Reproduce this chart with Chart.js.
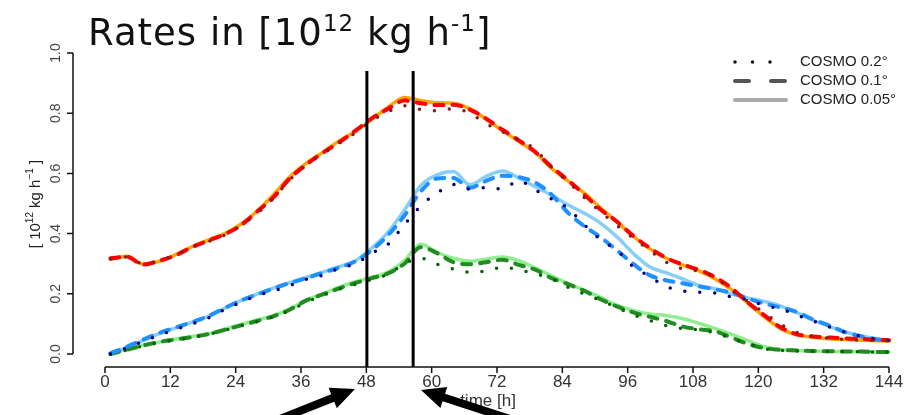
<!DOCTYPE html>
<html>
<head>
<meta charset="utf-8">
<script src="https://cdn.jsdelivr.net/npm/chart.js@4/dist/chart.umd.min.js"></script>
<style>
  html, body { margin: 0; padding: 0; background: #fff; }
  #wrap { position: relative; width: 917px; height: 415px; }
  #title {
    position: absolute; left: 88px; top: 14px;
    font-family: "DejaVu Sans", sans-serif; font-size: 37px; line-height: 1;
    letter-spacing: 1px; color: #111; white-space: nowrap;
  }
  #title .sup { position: relative; top: -14px; font-size: 23px; }
</style>
</head>
<body>
<div id="wrap">
  <canvas id="rateChart" width="917" height="415"></canvas>
  <div id="title">Rates in [10<span class="sup">12</span> kg h<span class="sup">-1</span>]</div>
</div>
<script>
const hours = [1, 4, 7, 10, 13, 16, 19, 22, 25, 28, 31, 34, 37, 40, 43, 46, 49, 52, 55, 58,
  61, 64, 67, 70, 73, 76, 79, 82, 85, 88, 91, 94, 97, 100, 103, 106, 109, 112, 115, 118,
  121, 124, 127, 130, 133, 136, 139, 142, 144];

// red group
const red005 = [0.315, 0.325, 0.299, 0.308, 0.33, 0.357, 0.379, 0.4, 0.432, 0.476,
  0.53, 0.59, 0.634, 0.67, 0.708, 0.74, 0.78, 0.82, 0.852, 0.842,
  0.835, 0.833, 0.815, 0.78, 0.742, 0.706, 0.67, 0.617, 0.575, 0.535,
  0.486, 0.44, 0.392, 0.35, 0.319, 0.296, 0.277, 0.25, 0.215, 0.17,
  0.125, 0.085, 0.064, 0.056, 0.051, 0.048, 0.046, 0.044, 0.043];
const red01 = [0.318, 0.323, 0.297, 0.31, 0.328, 0.355, 0.377, 0.398, 0.428, 0.474,
  0.522, 0.584, 0.63, 0.668, 0.703, 0.742, 0.783, 0.815, 0.842, 0.833,
  0.827, 0.828, 0.812, 0.782, 0.745, 0.71, 0.672, 0.622, 0.578, 0.53,
  0.48, 0.44, 0.393, 0.353, 0.32, 0.298, 0.28, 0.256, 0.22, 0.173,
  0.13, 0.09, 0.066, 0.058, 0.055, 0.052, 0.05, 0.047, 0.046];
const red02 = [0.316, 0.322, 0.3, 0.31, 0.33, 0.355, 0.374, 0.395, 0.427, 0.468,
  0.518, 0.58, 0.628, 0.665, 0.7, 0.735, 0.775, 0.805, 0.825, 0.812,
  0.808, 0.815, 0.8, 0.765, 0.738, 0.712, 0.68, 0.62, 0.573, 0.52,
  0.473, 0.428, 0.385, 0.345, 0.306, 0.283, 0.275, 0.255, 0.213, 0.175,
  0.138, 0.1, 0.072, 0.059, 0.052, 0.048, 0.046, 0.045, 0.044];

// blue group
const blue005 = [0.003, 0.022, 0.045, 0.068, 0.087, 0.106, 0.126, 0.152, 0.178, 0.2,
  0.22, 0.238, 0.255, 0.272, 0.29, 0.31, 0.352, 0.405, 0.478, 0.56,
  0.595, 0.606, 0.562, 0.59, 0.608, 0.585, 0.556, 0.528, 0.496, 0.468,
  0.435, 0.39, 0.335, 0.29, 0.27, 0.25, 0.228, 0.217, 0.2, 0.186,
  0.175, 0.16, 0.138, 0.113, 0.092, 0.073, 0.06, 0.05, 0.045];
const blue01 = [0.002, 0.024, 0.048, 0.07, 0.088, 0.106, 0.126, 0.153, 0.178, 0.198,
  0.218, 0.236, 0.252, 0.27, 0.287, 0.308, 0.345, 0.395, 0.46, 0.54,
  0.583, 0.585, 0.552, 0.575, 0.592, 0.588, 0.57, 0.53, 0.47, 0.425,
  0.388, 0.345, 0.3, 0.262, 0.245, 0.235, 0.225, 0.215, 0.204, 0.185,
  0.168, 0.155, 0.14, 0.115, 0.095, 0.072, 0.058, 0.048, 0.045];
const blue02 = [0.0, 0.02, 0.042, 0.063, 0.082, 0.1, 0.12, 0.148, 0.172, 0.195,
  0.21, 0.228, 0.248, 0.262, 0.285, 0.3, 0.335, 0.365, 0.43, 0.492,
  0.535, 0.563, 0.548, 0.553, 0.548, 0.575, 0.545, 0.515, 0.485, 0.43,
  0.38, 0.345, 0.29, 0.258, 0.225, 0.21, 0.205, 0.203, 0.19, 0.18,
  0.162, 0.15, 0.13, 0.11, 0.09, 0.072, 0.058, 0.048, 0.045];

// green group
const green005 = [0.0, 0.017, 0.03, 0.04, 0.05, 0.058, 0.068, 0.083, 0.098, 0.113,
  0.128, 0.15, 0.18, 0.2, 0.222, 0.24, 0.255, 0.272, 0.31, 0.365,
  0.338, 0.318, 0.308, 0.315, 0.322, 0.31, 0.286, 0.26, 0.235, 0.212,
  0.188, 0.162, 0.145, 0.133, 0.128, 0.118, 0.102, 0.085, 0.066, 0.045,
  0.025, 0.015, 0.012, 0.01, 0.009, 0.008, 0.008, 0.007, 0.007];
const green01 = [0.0, 0.014, 0.028, 0.04, 0.048, 0.056, 0.066, 0.08, 0.095, 0.11,
  0.126, 0.148, 0.178, 0.198, 0.218, 0.236, 0.252, 0.268, 0.3, 0.355,
  0.335, 0.305, 0.298, 0.305, 0.313, 0.296, 0.28, 0.252, 0.232, 0.21,
  0.182, 0.158, 0.138, 0.124, 0.11, 0.092, 0.082, 0.076, 0.055, 0.034,
  0.02, 0.014, 0.012, 0.01, 0.009, 0.008, 0.008, 0.007, 0.007];
const green02 = [0.0, 0.013, 0.027, 0.038, 0.047, 0.055, 0.065, 0.079, 0.094, 0.108,
  0.124, 0.145, 0.172, 0.195, 0.215, 0.232, 0.248, 0.265, 0.3, 0.318,
  0.298, 0.282, 0.272, 0.276, 0.288, 0.28, 0.266, 0.25, 0.222, 0.2,
  0.178, 0.155, 0.13, 0.112, 0.095, 0.085, 0.08, 0.07, 0.052, 0.035,
  0.018, 0.012, 0.01, 0.009, 0.008, 0.008, 0.007, 0.007, 0.007];

const xTicks = [0, 12, 24, 36, 48, 60, 72, 84, 96, 108, 120, 132, 144];
const yTicks = [0, 0.2, 0.4, 0.6, 0.8, 1.0];
const markerHours = [48.1, 56.6];
const legendLabels = ["COSMO 0.2°", "COSMO 0.1°", "COSMO 0.05°"];

const DOT = [0, 15];
const DASH = [9, 9];

function series(values, color, style) {
  const ds = {
    data: values.map((v, i) => ({ x: hours[i], y: v })),
    borderColor: color,
    pointRadius: 0,
    fill: false,
    clip: false,
    cubicInterpolationMode: "monotone",
    borderCapStyle: "round",
    borderJoinStyle: "round",
  };
  if (style === "dot") { ds.borderWidth = 3.5; ds.borderDash = DOT; }
  else if (style === "dash") { ds.borderWidth = 4; ds.borderDash = DASH; }
  else { ds.borderWidth = 3.5; }
  return ds;
}

// first dataset is drawn on top, so dotted first, solid last
const datasets = [
  series(red02, "#8b1a1a", "dot"),
  series(blue02, "#000080", "dot"),
  series(green02, "#006400", "dot"),
  series(red01, "#ff0000", "dash"),
  series(blue01, "#1e90ff", "dash"),
  series(green01, "#228b22", "dash"),
  series(red005, "#ffa500", "solid"),
  series(blue005, "#87cefa", "solid"),
  series(green005, "#90ee90", "solid"),
];

function drawArrow(ctx, tx, ty, sx, sy) {
  const dx = tx - sx, dy = ty - sy;
  const len = Math.hypot(dx, dy);
  const ux = dx / len, uy = dy / len;
  const nx = -uy, ny = ux;
  const headLen = 24, headW = 11, shaftW = 4;
  const bx = tx - ux * headLen, by = ty - uy * headLen;
  ctx.beginPath();
  ctx.moveTo(sx + nx * shaftW, sy + ny * shaftW);
  ctx.lineTo(bx + nx * shaftW, by + ny * shaftW);
  ctx.lineTo(bx + nx * headW, by + ny * headW);
  ctx.lineTo(tx, ty);
  ctx.lineTo(bx - nx * headW, by - ny * headW);
  ctx.lineTo(bx - nx * shaftW, by - ny * shaftW);
  ctx.lineTo(sx - nx * shaftW, sy - ny * shaftW);
  ctx.closePath();
  ctx.fill();
}

// R style axes, marker lines, legend and arrows
const decorations = {
  id: "decorations",
  afterDatasetsDraw(chart) {
    const ctx = chart.ctx;
    const xs = chart.scales.x;
    const ys = chart.scales.y;
    const axisY = 367;
    const axisX = 73;
    ctx.save();

    // vertical marker lines
    ctx.strokeStyle = "#000";
    ctx.lineWidth = 3;
    markerHours.forEach((h) => {
      const px = xs.getPixelForValue(h);
      ctx.beginPath();
      ctx.moveTo(px, ys.getPixelForValue(0.94));
      ctx.lineTo(px, axisY);
      ctx.stroke();
    });

    // x axis
    ctx.strokeStyle = "#111";
    ctx.lineWidth = 1.5;
    ctx.beginPath();
    ctx.moveTo(xs.getPixelForValue(0), axisY);
    ctx.lineTo(xs.getPixelForValue(144), axisY);
    xTicks.forEach((t) => {
      const px = xs.getPixelForValue(t);
      ctx.moveTo(px, axisY);
      ctx.lineTo(px, axisY + 6);
    });
    ctx.stroke();
    ctx.fillStyle = "#333";
    ctx.font = "17px 'Liberation Sans', Arial, sans-serif";
    ctx.textAlign = "center";
    ctx.textBaseline = "middle";
    xTicks.forEach((t) => ctx.fillText(String(t), xs.getPixelForValue(t), 382));
    ctx.fillText("time [h]", 488, 401);

    // y axis
    ctx.beginPath();
    ctx.moveTo(axisX, ys.getPixelForValue(0));
    ctx.lineTo(axisX, ys.getPixelForValue(1));
    yTicks.forEach((t) => {
      const py = ys.getPixelForValue(t);
      ctx.moveTo(axisX, py);
      ctx.lineTo(axisX - 6, py);
    });
    ctx.stroke();
    ctx.fillStyle = "#444";
    ctx.font = "14px 'Liberation Sans', Arial, sans-serif";
    yTicks.forEach((t) => {
      ctx.save();
      ctx.translate(56, ys.getPixelForValue(t));
      ctx.rotate(-Math.PI / 2);
      ctx.fillText(t.toFixed(1), 0, 0);
      ctx.restore();
    });

    // y title with superscripts
    ctx.fillStyle = "#222";
    ctx.save();
    ctx.translate(36, 204);
    ctx.rotate(-Math.PI / 2);
    const parts = [["[ 10", 15, 0], ["12", 10, -6], [" kg h", 15, 0], ["\u22121", 10, -6], [" ]", 15, 0]];
    let total = 0;
    parts.forEach((p) => {
      ctx.font = p[1] + "px 'Liberation Sans', Arial, sans-serif";
      total += ctx.measureText(p[0]).width;
    });
    let cx = -total / 2;
    ctx.textAlign = "left";
    parts.forEach((p) => {
      ctx.font = p[1] + "px 'Liberation Sans', Arial, sans-serif";
      ctx.fillText(p[0], cx, p[2]);
      cx += ctx.measureText(p[0]).width;
    });
    ctx.restore();

    // legend
    const rowsY = [62, 81, 100];
    ctx.lineCap = "round";
    ctx.strokeStyle = "#111";
    ctx.lineWidth = 3.5;
    ctx.setLineDash([0, 17.5]);
    ctx.beginPath();
    ctx.moveTo(735, rowsY[0]);
    ctx.lineTo(771, rowsY[0]);
    ctx.stroke();
    ctx.strokeStyle = "#555";
    ctx.lineWidth = 4;
    ctx.setLineDash([14, 22]);
    ctx.beginPath();
    ctx.moveTo(735, rowsY[1]);
    ctx.lineTo(787, rowsY[1]);
    ctx.stroke();
    ctx.strokeStyle = "#aaa";
    ctx.setLineDash([]);
    ctx.beginPath();
    ctx.moveTo(735, rowsY[2]);
    ctx.lineTo(786, rowsY[2]);
    ctx.stroke();
    ctx.fillStyle = "#222";
    ctx.font = "15px 'Liberation Sans', Arial, sans-serif";
    ctx.textAlign = "left";
    legendLabels.forEach((lab, i) => ctx.fillText(lab, 800, rowsY[i]));

    // arrows pointing at the marker lines
    ctx.fillStyle = "#000";
    drawArrow(ctx, 355, 389, 280, 419);
    drawArrow(ctx, 421, 390, 510, 419);

    ctx.restore();
  },
};

const ctx = document.getElementById("rateChart").getContext("2d");

const chart = new Chart(ctx, {
  type: "line",
  data: { datasets: datasets },
  options: {
    responsive: false,
    animation: false,
    layout: { padding: { left: 105, right: 28, top: 53, bottom: 61 } },
    scales: {
      x: { type: "linear", min: 0, max: 144, display: false },
      y: { type: "linear", min: 0, max: 1, display: false },
    },
    plugins: {
      legend: { display: false },
      tooltip: { enabled: false },
    },
  },
  plugins: [decorations],
});
</script>
</body>
</html>
